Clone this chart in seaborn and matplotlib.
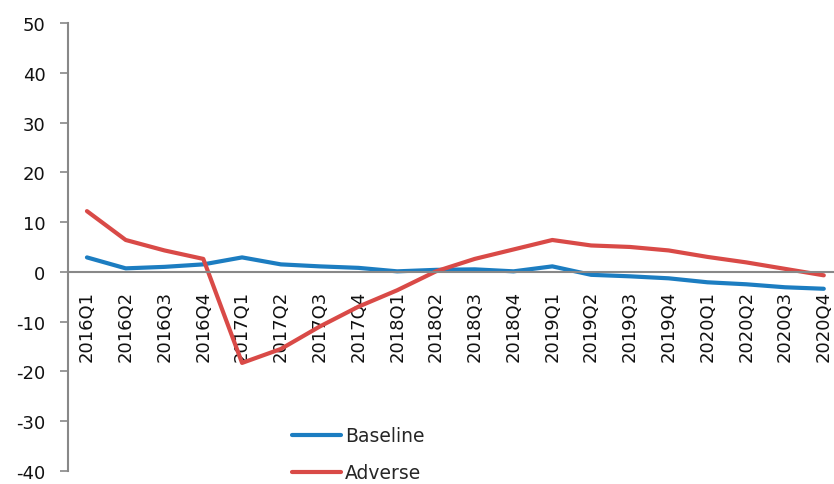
import matplotlib
matplotlib.use("Agg")
import matplotlib.pyplot as plt
import pandas as pd
import seaborn as sns

quarters = [
    "2016Q1", "2016Q2", "2016Q3", "2016Q4",
    "2017Q1", "2017Q2", "2017Q3", "2017Q4",
    "2018Q1", "2018Q2", "2018Q3", "2018Q4",
    "2019Q1", "2019Q2", "2019Q3", "2019Q4",
    "2020Q1", "2020Q2", "2020Q3", "2020Q4",
]
baseline = [2.9, 0.7, 1.0, 1.5, 2.9, 1.5, 1.1, 0.8, 0.1, 0.4,
            0.5, 0.1, 1.1, -0.6, -0.9, -1.3, -2.1, -2.5, -3.1, -3.4]
adverse = [12.2, 6.4, 4.3, 2.6, -18.3, -15.5, -11.0, -7.0, -3.7, 0.1,
           2.6, 4.5, 6.4, 5.3, 5.0, 4.3, 3.0, 1.9, 0.6, -0.7]
y_ticks = list(range(-40, 51, 10))

df = pd.concat([
    pd.DataFrame({"quarter": quarters, "value": baseline, "scenario": "Baseline"}),
    pd.DataFrame({"quarter": quarters, "value": adverse, "scenario": "Adverse"}),
])

sns.set_style("white")
plt.rcParams["font.family"] = ["DejaVu Sans"]

fig = plt.figure(figsize=(8.34, 4.85), dpi=100)
ax = fig.add_axes([0.081, 0.027, 0.93, 0.9235])

sns.lineplot(
    data=df, x="quarter", y="value", hue="scenario", sort=False,
    palette={"Baseline": "#1C7DC1", "Adverse": "#D94A47"},
    linewidth=3, ax=ax,
)

ax.set_xlabel("")
ax.set_ylabel("")
ax.set_ylim(-40, 50)
ax.set_xlim(-0.5, len(quarters) - 0.5)
ax.set_yticks(y_ticks)
ax.set_yticklabels([str(t) for t in y_ticks], fontsize=13, color="#111111")

# category ticks between labels, like a spreadsheet chart
ax.set_xticks([i - 0.5 for i in range(len(quarters) + 1)], labels=[])
ax.set_xticks(range(len(quarters)), labels=quarters, minor=True)
ax.tick_params(axis="x", which="major", direction="out", length=6, width=1.2, color="#888888")
ax.tick_params(axis="x", which="minor", length=0, pad=13, labelrotation=90,
               labelsize=13, labelcolor="#111111")
ax.tick_params(axis="y", direction="out", length=6, width=1.2, color="#888888", left=True, pad=10)

for side in ["top", "right"]:
    ax.spines[side].set_visible(False)
ax.spines["bottom"].set_position(("data", 0))
ax.spines["bottom"].set_color("#888888")
ax.spines["bottom"].set_linewidth(1.5)
ax.spines["left"].set_color("#888888")
ax.spines["left"].set_linewidth(1.5)

handles, labels = ax.get_legend_handles_labels()
ax.legend(
    handles, labels, frameon=False, fontsize=13.5, loc="upper left",
    bbox_to_anchor=(283 / 834, 1 - 418 / 485), bbox_transform=fig.transFigure,
    handlelength=2.6, handletextpad=0.2, labelspacing=0.95, borderpad=0,
)

fig.savefig("out.png", dpi=100)
